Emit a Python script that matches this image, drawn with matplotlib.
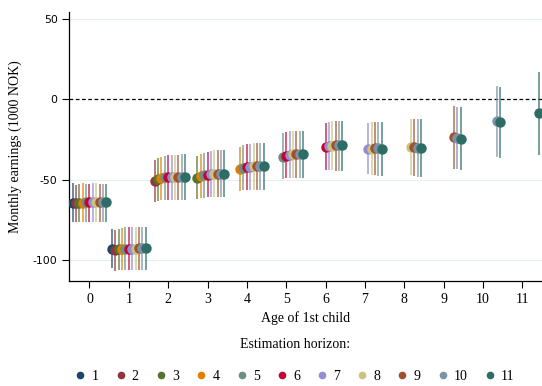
import matplotlib
matplotlib.use("Agg")
from matplotlib import pyplot as plt
from matplotlib.lines import Line2D

# event-study estimates by age of first child; each age holds one value per
# estimation horizon, horizons max(age, 1) .. 11
ages = list(range(12))
horizons = list(range(1, 12))

coef = [
    [-64.8, -64.6, -64.5, -64.4, -64.3, -64.3, -64.2, -64.2, -64.1, -64.1, -64.0],
    [-93.0, -93.8, -93.5, -93.3, -93.2, -93.1, -93.0, -93.0, -92.9, -92.9, -92.8],
    [-50.7, -49.7, -49.0, -48.6, -48.4, -48.3, -48.3, -48.2, -48.2, -48.2],
    [-48.8, -48.0, -47.3, -46.9, -46.7, -46.6, -46.5, -46.4, -46.4],
    [-43.6, -42.6, -42.2, -42.0, -41.8, -41.7, -41.6, -41.6],
    [-35.8, -35.1, -34.5, -34.3, -34.2, -34.1, -34.1],
    [-29.5, -29.1, -28.9, -28.8, -28.7, -28.7],
    [-31.0, -30.8, -30.5, -30.4, -31.0],
    [-29.7, -29.9, -30.1, -30.3],
    [-23.7, -24.1, -24.5],
    [-13.5, -14.3],
    [-8.7],
]
ci_hi = [
    [-52.3, -53.4, -52.8, -52.3, -52.6, -52.5, -52.4, -52.4, -52.5, -52.5, -52.5],
    [-81.0, -81.5, -80.5, -80.0, -79.8, -79.8, -79.8, -79.8, -79.8, -79.8, -79.8],
    [-37.8, -36.6, -35.7, -35.2, -35.0, -34.8, -34.6, -34.5, -34.4, -34.3],
    [-35.3, -34.2, -33.3, -32.6, -32.2, -31.9, -31.8, -31.7, -31.6],
    [-29.5, -28.6, -28.0, -27.6, -27.3, -27.2, -27.1, -27.0],
    [-21.2, -20.6, -20.0, -19.7, -19.5, -19.5, -19.5],
    [-14.6, -14.0, -13.7, -13.5, -13.4, -13.3],
    [-14.6, -14.3, -14.2, -14.1, -14.1],
    [-12.5, -12.4, -12.5, -12.5],
    [-4.2, -4.6, -5.0],
    [8.3, 7.9],
    [17.0],
]
ci_lo = [
    [-76.3, -76.6, -76.5, -76.4, -76.4, -76.3, -76.3, -76.3, -76.2, -76.2, -76.2],
    [-105.3, -106.8, -106.4, -106.4, -106.4, -106.4, -106.4, -106.4, -106.4, -106.4, -106.4],
    [-63.8, -63.2, -63.0, -62.9, -62.8, -62.8, -62.7, -62.7, -62.7, -62.7],
    [-62.3, -61.8, -61.4, -61.1, -61.0, -60.9, -60.8, -60.7, -60.7],
    [-57.1, -56.8, -56.7, -56.6, -56.6, -56.5, -56.5, -56.5],
    [-49.8, -49.2, -49.0, -49.0, -49.0, -49.0, -49.0],
    [-44.0, -44.2, -44.3, -44.4, -44.5, -44.5],
    [-46.7, -47.0, -47.3, -47.6, -47.8],
    [-47.2, -47.8, -48.2, -48.6],
    [-43.2, -43.6, -44.0],
    [-35.7, -36.8],
    [-34.7],
]

# stata s2color palette, one colour per horizon
colors = ["#1a476f", "#90353b", "#55752f", "#e37e00", "#6e8e84", "#c10534",
          "#938dd2", "#cac27e", "#a0522d", "#7b92a8", "#2d6d66"]

serif = "Liberation Serif"
plt.rcParams["font.family"] = serif

fig = plt.figure(figsize=(5.42, 3.86), dpi=100)
ax = fig.add_axes([0.128, 0.272, 0.872, 0.698])

for h, col in zip(horizons, colors):
    xs, ys, los, his = [], [], [], []
    for a in ages:
        first = max(a, 1)
        if h < first:
            continue
        i = h - first
        xs.append(a + (h - 6) * 0.086)
        ys.append(coef[a][i])
        los.append(coef[a][i] - ci_lo[a][i])
        his.append(ci_hi[a][i] - coef[a][i])
    ax.errorbar(xs, ys, yerr=[los, his], fmt="none", ecolor=col,
                elinewidth=1.3, alpha=0.7, capsize=0, zorder=2)
    ax.plot(xs, ys, "o", color=col, markersize=7.5, markeredgewidth=0, zorder=3)

ax.axhline(0, color="black", lw=0.9, ls=(0, (3, 2)), zorder=1)
for yv in [50, -50, -100]:
    ax.axhline(yv, color="#e6eef0", lw=0.8, zorder=0)

ax.set_xlim(-0.51, 11.5)
ax.set_ylim(-113.2, 54.6)
ax.set_xticks(ages)
ax.set_yticks([50, 0, -50, -100])
ax.set_yticklabels(["50", "0", "-50", "-100"], family="DejaVu Sans", fontsize=7.8)
ax.tick_params(axis="x", labelsize=10, length=5, width=0.8)
ax.tick_params(axis="y", length=5, width=0.8)
for s in ["top", "right"]:
    ax.spines[s].set_visible(False)
ax.spines["left"].set_linewidth(0.9)
ax.spines["bottom"].set_linewidth(0.9)

ax.set_xlabel("Age of 1st child", fontsize=10, labelpad=4)
ax.set_ylabel("Monthly earnings (1000 NOK)", fontsize=10, labelpad=8)

fig.text(0.545, 0.107, "Estimation horizon:", ha="center", va="center", fontsize=10)
handles = [Line2D([], [], marker="o", ls="none", color=c, markersize=5.5,
                  markeredgewidth=0) for c in colors]
fig.legend(handles, [str(h) for h in horizons], ncol=11, frameon=False,
           loc="center", bbox_to_anchor=(0.545, 0.025), fontsize=10,
           handlelength=0.6, handletextpad=0.5, columnspacing=1.3,
           borderaxespad=0)

fig.savefig("out.png", dpi=100)
